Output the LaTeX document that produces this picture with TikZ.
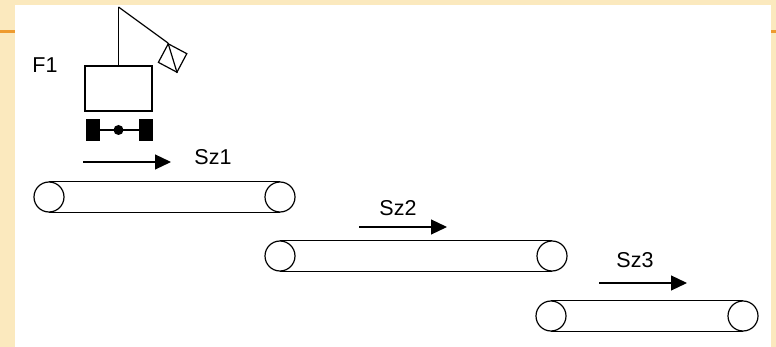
\documentclass[tikz,border=0pt]{standalone}
\usepackage{fontspec}
\setmainfont{Liberation Sans}
\usetikzlibrary{arrows.meta}
\definecolor{slidebeige}{HTML}{FBE9BE}
\definecolor{slideorange}{HTML}{EE9B2F}

\begin{document}
\begin{tikzpicture}[x=1pt,y=-1pt]
  \tikzset{RollerStyle/.style = {
    shape         = circle,
    draw          = black,
    fill          = white,
    line width    = 1.2pt,
    inner sep     = 0pt,
    minimum size  = 30pt
    }
  }
  \tikzset{BeltStyle/.style = {
    draw          = black,
    line width    = 1.2pt
    }
  }
  \tikzset{MoveStyle/.style = {
    draw          = black,
    line width    = 1.2pt,
    -{Triangle[length=16pt,width=15pt]}
    }
  }
  \tikzset{WheelStyle/.style = {
    shape         = rectangle,
    fill          = black,
    inner sep     = 0pt,
    minimum width = 14pt,
    minimum height= 22pt
    }
  }
  \tikzset{LabelStyle/.style = {
    text          = black,
    inner sep     = 0pt,
    font          = \fontsize{21.5}{25}\selectfont
    }
  }

  \useasboundingbox (0,0) rectangle (776,347);
  \fill[slidebeige] (0,0) rectangle (776,347);
  \fill[white] (15,5) rectangle (771,347);
  \fill[slideorange] (0,30) rectangle (15,33);
  \fill[slideorange] (771,30) rectangle (776,33);

  % crane
  \node[draw, line width=1.2pt, minimum width=67pt, minimum height=45pt, inner sep=0pt](Cab) at (118.5,88.5) {};
  \coordinate (MastTop) at (118.5,7);
  \node[draw, line width=1.2pt, minimum size=21pt, inner sep=0pt, rotate=-28, anchor=north west](Hook) at (168,43) {};
  \draw[BeltStyle](Cab.north) -- (MastTop);
  \draw[BeltStyle](MastTop) -- (Hook.north west);
  \draw[BeltStyle](Hook.north west) -- (Hook.south east);
  \node[WheelStyle](WheelL) at (93,130) {};
  \node[WheelStyle](WheelR) at (146,130) {};
  \draw[BeltStyle](WheelL) -- (WheelR);
  \node[circle, fill=black, inner sep=0pt, minimum size=10pt](Axle) at (118.5,130) {};
  \node[LabelStyle](F1) at (45,65) {F1};

  % conveyors
  \node[RollerStyle](A1) at (49,197) {};
  \node[RollerStyle](A2) at (280,197) {};
  \node[RollerStyle](B1) at (280,256) {};
  \node[RollerStyle](B2) at (552,256) {};
  \node[RollerStyle](C1) at (551,316) {};
  \node[RollerStyle](C2) at (743,316) {};
  \draw[BeltStyle](A1.north) -- (A2.north);
  \draw[BeltStyle](A1.south) -- (A2.south);
  \draw[BeltStyle](B1.north) -- (B2.north);
  \draw[BeltStyle](B1.south) -- (B2.south);
  \draw[BeltStyle](C1.north) -- (C2.north);
  \draw[BeltStyle](C1.south) -- (C2.south);

  % directions
  \coordinate (a1) at (83,162);
  \coordinate (a2) at (171,162);
  \coordinate (b1) at (359,227);
  \coordinate (b2) at (447,227);
  \coordinate (c1) at (599,283);
  \coordinate (c2) at (687,283);
  \draw[MoveStyle](a1) -- (a2);
  \draw[MoveStyle](b1) -- (b2);
  \draw[MoveStyle](c1) -- (c2);
  \node[LabelStyle](Sz1) at (213,157) {Sz1};
  \node[LabelStyle](Sz2) at (398,208) {Sz2};
  \node[LabelStyle](Sz3) at (635,260) {Sz3};
\end{tikzpicture}
\end{document}
